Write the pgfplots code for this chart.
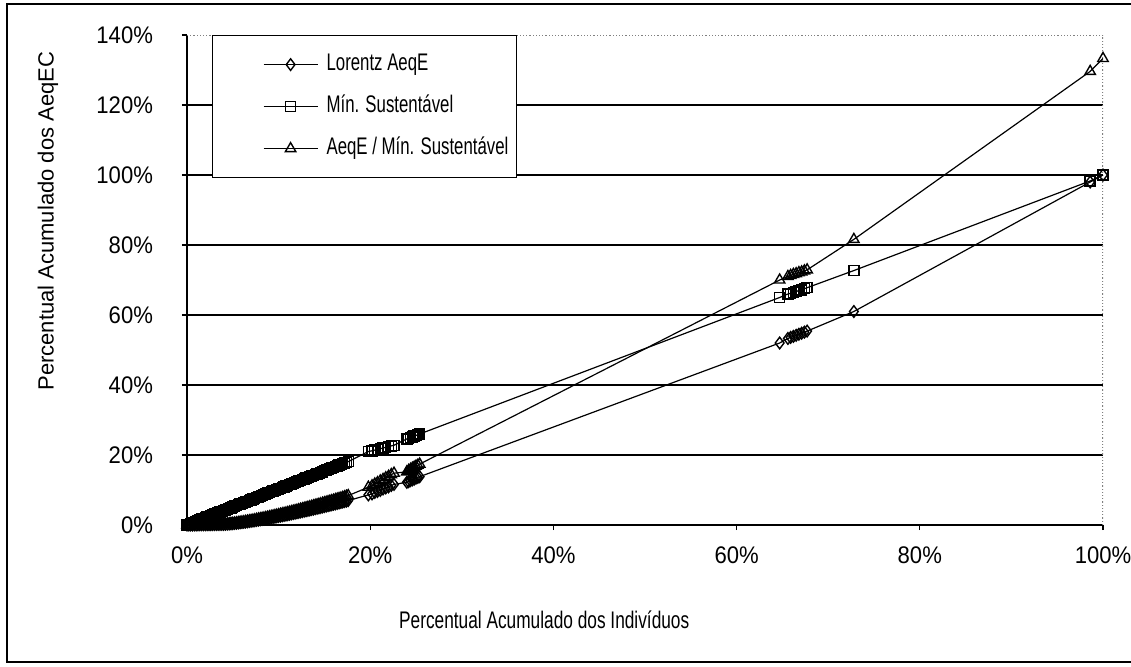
\documentclass[border=0pt]{standalone}
\usepackage{fontspec}
\setmainfont{Liberation Sans}[FakeStretch=0.72]
\newfontfamily\widefont{Liberation Sans}
\newfontfamily\tickfont{Liberation Sans}[FakeStretch=0.92]
\newfontfamily\legfont{Liberation Sans}[FakeStretch=0.7]
\usepackage{pgfplots}
\pgfplotsset{compat=1.18}
\usepackage{pgfplotstable}

\pgfplotstableread{
X L M T
0.0 0.00 0.0 0.00
0.2 0.01 0.2 0.01
0.4 0.02 0.4 0.03
0.6 0.03 0.6 0.04
0.8 0.04 0.8 0.05
1.0 0.05 1.0 0.06
1.2 0.06 1.2 0.07
1.4 0.07 1.5 0.09
1.6 0.08 1.7 0.10
1.8 0.09 1.9 0.11
2.0 0.10 2.1 0.12
2.2 0.11 2.3 0.13
2.4 0.12 2.5 0.14
2.6 0.13 2.7 0.16
2.8 0.14 2.9 0.17
3.0 0.15 3.1 0.18
3.2 0.16 3.3 0.19
3.4 0.17 3.5 0.21
3.6 0.18 3.7 0.22
3.8 0.19 3.9 0.23
4.0 0.20 4.1 0.24
4.2 0.23 4.3 0.27
4.4 0.26 4.5 0.31
4.6 0.30 4.7 0.36
4.8 0.35 4.9 0.42
5.0 0.40 5.2 0.48
5.2 0.46 5.4 0.55
5.4 0.52 5.6 0.62
5.6 0.58 5.8 0.69
5.8 0.64 6.0 0.77
6.0 0.71 6.2 0.85
6.2 0.78 6.4 0.93
6.4 0.85 6.6 1.02
6.6 0.92 6.8 1.11
6.8 1.00 7.0 1.20
7.0 1.08 7.2 1.29
7.2 1.16 7.4 1.39
7.4 1.24 7.6 1.49
7.6 1.33 7.8 1.60
7.8 1.41 8.0 1.70
8.0 1.50 8.2 1.80
8.2 1.59 8.5 1.90
8.4 1.68 8.7 2.00
8.6 1.77 8.9 2.12
8.8 1.86 9.1 2.23
9.0 1.95 9.3 2.34
9.2 2.05 9.5 2.46
9.4 2.15 9.7 2.58
9.6 2.25 9.9 2.70
9.8 2.35 10.1 2.82
10.0 2.45 10.3 2.94
10.2 2.55 10.5 3.06
10.4 2.65 10.7 3.18
10.6 2.75 10.9 3.30
10.8 2.86 11.1 3.43
11.0 2.96 11.3 3.56
11.2 3.07 11.5 3.69
11.4 3.18 11.7 3.82
11.6 3.29 11.9 3.95
11.8 3.40 12.2 4.08
12.0 3.51 12.4 4.21
12.2 3.62 12.6 4.35
12.4 3.74 12.8 4.49
12.6 3.85 13.0 4.62
12.8 3.97 13.2 4.76
13.0 4.08 13.4 4.90
13.2 4.20 13.6 5.04
13.4 4.32 13.8 5.18
13.6 4.44 14.0 5.33
13.8 4.56 14.2 5.47
14.0 4.68 14.4 5.61
14.2 4.80 14.6 5.75
14.4 4.92 14.8 5.90
14.6 5.04 15.0 6.05
14.8 5.17 15.2 6.20
15.0 5.29 15.5 6.35
15.2 5.42 15.7 6.50
15.4 5.54 15.9 6.65
15.6 5.67 16.1 6.80
15.8 5.80 16.3 6.95
16.0 5.93 16.5 7.10
16.2 6.06 16.7 7.25
16.4 6.19 16.9 7.40
16.6 6.32 17.1 7.55
16.8 6.45 17.3 7.70
17.0 6.58 17.5 7.87
17.2 6.71 17.7 8.05
17.4 6.84 17.9 8.22
17.6 6.98 18.1 8.40
19.8 8.6 21.0 10.8
20.2 8.9 21.2 11.2
20.5 9.3 21.4 11.7
20.8 9.6 21.6 12.1
21.1 9.9 21.8 12.6
21.4 10.3 22.0 13.0
21.7 10.6 22.2 13.5
22.0 10.9 22.4 13.9
22.3 11.3 22.6 14.4
22.6 11.6 22.8 14.8
24.0 12.2 24.6 15.2
24.2 12.4 24.8 15.6
24.4 12.7 25.0 15.9
24.6 12.9 25.2 16.2
24.8 13.1 25.4 16.5
25.0 13.4 25.6 16.8
25.2 13.6 25.8 17.1
25.4 13.8 26.0 17.4
64.7 52.0 65.0 70.0
65.6 53.3 66.0 71.0
65.9 53.6 66.2 71.3
66.2 53.9 66.5 71.6
66.5 54.2 66.7 71.8
66.8 54.5 67.0 72.1
67.1 54.8 67.2 72.3
67.4 55.1 67.5 72.6
67.7 55.4 67.8 72.9
72.8 61.0 72.7 81.6
98.6 98.0 98.3 129.6
100.0 100.0 100.0 133.3
}\data

\begin{document}
\begin{tikzpicture}
\path[use as bounding box] (0,0) rectangle (565.5pt,333pt);
\begin{axis}[
  at={(93.5pt,70.5pt)}, anchor=south west,
  width=458pt, height=245pt, scale only axis,
  xmin=0, xmax=100, ymin=0, ymax=140,
  axis x line*=bottom, axis y line*=left,
  axis line style={black, line width=0.6pt},
  xtick={0,20,...,100}, ytick={0,20,...,140},
  xticklabel={\pgfmathprintnumber[assume math mode=true]{\tick}\%},
  yticklabel={\pgfmathprintnumber[assume math mode=true]{\tick}\%},
  tick align=outside, major tick length=2.5pt,
  tick style={black, line width=0.6pt},
  ticklabel style={font=\tickfont\fontsize{12}{14}\selectfont},
  yticklabel style={xshift=-11pt},
  xticklabel style={yshift=-5pt},
  extra y ticks={20,40,...,120},
  extra y tick labels={},
  extra y tick style={grid=major, major tick length=0pt},
  grid style={black, line width=0.6pt},
  xlabel={Percentual Acumulado dos Indivíduos},
  ylabel={Percentual Acumulado dos AeqEC},
  every axis x label/.style={at={(rel axis cs:0.39,0)}, anchor=center, yshift=-47.5pt, font=\fontsize{12}{14}\selectfont},
  every axis y label/.style={at={(rel axis cs:0,0.62)}, xshift=-69.5pt, rotate=90, anchor=center, font=\widefont\fontsize{11}{13}\selectfont},
  legend style={at={(0.0273,1)}, anchor=north west, draw=black, line width=0.6pt, fill=white,
     font=\legfont\fontsize{12}{14}\selectfont, inner xsep=3pt, inner ysep=8.5pt, row sep=9pt,
     nodes={inner sep=1pt, text height=8pt, text depth=2pt}},
  legend cell align=left,
  legend image code/.code={\path[draw=none,fill=none] (0pt,0pt) -- (53pt,0pt); \draw[mark repeat=2,mark phase=2,#1] plot coordinates {(22.5pt,0pt)(36pt,0pt)(49.5pt,0pt)};},
]
\draw[gray, densely dotted, line width=0.6pt] (rel axis cs:0,1) -- (rel axis cs:1,1) -- (rel axis cs:1,0);
\addplot[black, line width=0.6pt, mark=diamond, mark size=2.9pt, mark options={solid, line width=0.7pt}] table[x=X,y=L]{\data};
\addplot[black, line width=0.6pt, mark=square, mark size=2.5pt, mark options={solid, line width=0.7pt}] table[x=X,y=M]{\data};
\addplot[black, line width=0.6pt, mark=triangle, mark size=3pt, mark options={solid, line width=0.7pt}] table[x=X,y=T]{\data};
\legend{Lorentz AeqE, Mín. Sustentável, AeqE / Mín. Sustentável}
\end{axis}
\draw[black, line width=0.6pt] (3.5pt,2pt) rectangle (570pt,331pt);
\end{tikzpicture}
\end{document}
